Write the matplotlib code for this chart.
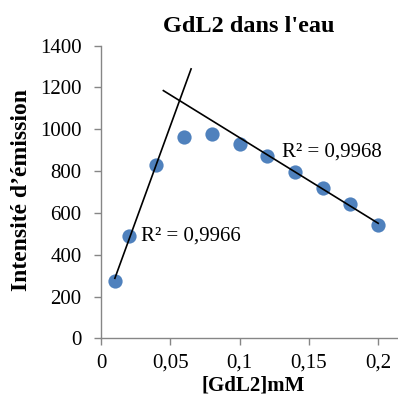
import numpy as np
import matplotlib
matplotlib.use("Agg")
import matplotlib.pyplot as plt
from matplotlib.ticker import FuncFormatter, MultipleLocator

# concentration (mM) and emission intensity
conc = [0.01, 0.02, 0.04, 0.06, 0.08, 0.10, 0.12, 0.14, 0.16, 0.18, 0.20]
intensity = [274, 489, 827, 962, 978, 928, 874, 796, 717, 643, 541]

# points used by each linear trend, and how far each trend is projected
rise_idx = [0, 1, 2]
fall_idx = [6, 7, 8, 9, 10]
rise_forward = 0.025
fall_backward = 0.075
r2_rise = "R² = 0,9966"
r2_fall = "R² = 0,9968"

plt.rcParams["font.family"] = ["Liberation Serif", "DejaVu Serif"]

fig = plt.figure(figsize=(3.98, 3.96), dpi=100)
ax = fig.add_axes([0.2538, 0.1457, 0.7462, 0.7389])

ax.scatter(conc, intensity, s=105, color="#4F81BD", zorder=2, linewidths=0)

x = np.array(conc)
y = np.array(intensity)

# rising trend, extended forward
a, b = np.polyfit(x[rise_idx], y[rise_idx], 1)
xr = np.array([x[rise_idx].min(), x[rise_idx].max() + rise_forward])
ax.plot(xr, a * xr + b, color="black", lw=1.2, zorder=3)

# falling trend, extended backward
c, d = np.polyfit(x[fall_idx], y[fall_idx], 1)
xf = np.array([x[fall_idx].min() - fall_backward, x[fall_idx].max()])
ax.plot(xf, c * xf + d, color="black", lw=1.2, zorder=3)

ax.text(0.0289, 467, r2_rise, fontsize=15, va="baseline", ha="left")
ax.text(0.1304, 872, r2_fall, fontsize=15, va="baseline", ha="left")

ax.set_xlim(0, 0.2143)
ax.set_ylim(0, 1400)
ax.xaxis.set_major_locator(MultipleLocator(0.05))
ax.yaxis.set_major_locator(MultipleLocator(200))
ax.xaxis.set_major_formatter(FuncFormatter(lambda v, p: f"{v:g}".replace(".", ",")))
ax.yaxis.set_major_formatter(FuncFormatter(lambda v, p: f"{v:g}"))

for s in ["top", "right"]:
    ax.spines[s].set_visible(False)
for s in ["left", "bottom"]:
    ax.spines[s].set_color("#868686")
    ax.spines[s].set_linewidth(1.0)
ax.tick_params(axis="both", direction="out", length=5, width=1.0,
               color="#868686", labelsize=15)
ax.tick_params(axis="x", pad=6)
ax.tick_params(axis="y", pad=9)

fig.text(0.624, 0.919, "GdL2 dans l'eau", fontsize=17.5, fontweight="bold",
         ha="center", va="baseline")
fig.text(0.055, 0.52, "Intensité d’émission", fontsize=17, fontweight="bold",
         ha="center", va="center", rotation=90)
fig.text(0.636, 0.013, "[GdL2]mM", fontsize=15, fontweight="bold",
         ha="center", va="baseline")

fig.savefig("out.png", dpi=100)
